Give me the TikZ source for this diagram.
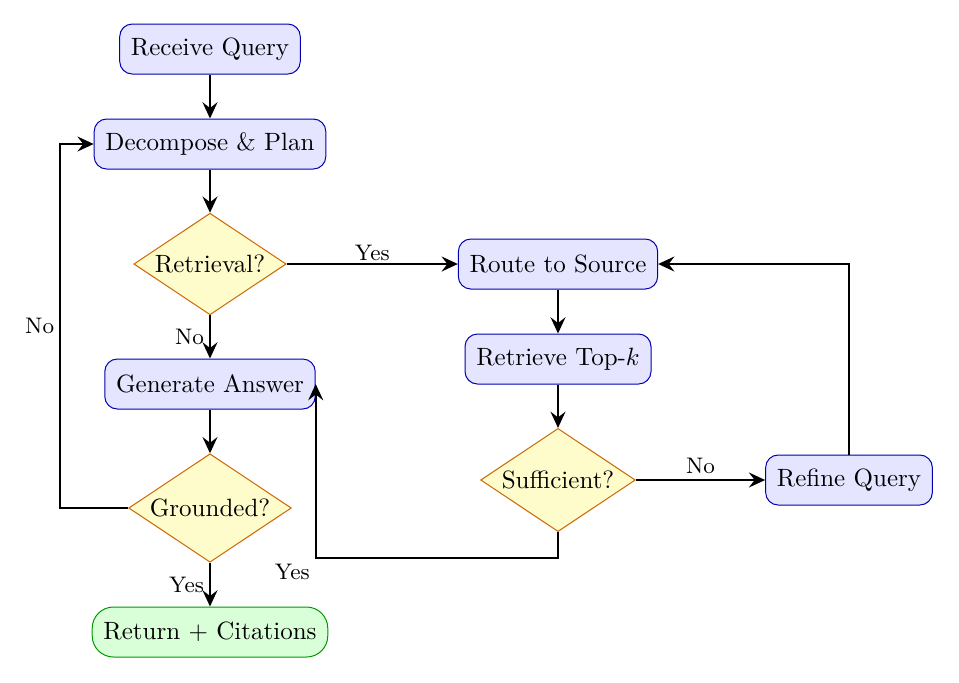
\documentclass[tikz,border=0pt]{standalone}
\usetikzlibrary{shapes.geometric,arrows.meta}
\tikzset{
  box/.style={rectangle, rounded corners=5pt, draw=blue!70!black, fill=blue!10, minimum height=20pt, inner xsep=4.5pt},
  decision/.style={diamond, aspect=1.5, draw=orange!80!black, fill=yellow!20, inner sep=1.2pt},
  term/.style={rectangle, rounded corners=8.5pt, draw=green!60!black, fill=green!15, minimum height=20pt, inner xsep=4.5pt},
  arr/.style={thick, -{Stealth[length=6.5pt,width=6pt,inset=2.3pt]}},
  lbl/.style={font=\small, inner sep=2pt}
}
\begin{document}
\begin{tikzpicture}[x=0.4pt,y=-0.4pt]
\useasboundingbox (0,0) rectangle (959,682);
\node[box] (recv) at (210,49) {Receive Query};
\node[box] (dec) at (210,144) {Decompose \& Plan};
\node[decision] (retq) at (210,264) {Retrieval?};
\node[box] (gen) at (210,384) {Generate Answer};
\node[decision] (grd) at (210,508) {Grounded?};
\node[term] (ret) at (210,632) {Return + Citations};
\node[box] (route) at (558,264) {Route to Source};
\node[box] (top) at (558,359) {Retrieve Top-$k$};
\node[decision] (suf) at (558,480) {Sufficient?};
\node[box] (ref) at (849,480) {Refine Query};
\draw[arr] (recv) -- (dec);
\draw[arr] (dec) -- (retq);
\draw[arr] (retq) -- node[lbl,above=-1pt]{Yes} (route);
\draw[arr] (retq) -- node[lbl,left]{No} (gen);
\draw[arr] (gen) -- (grd);
\draw[arr] (grd) -- node[lbl,left]{Yes} (ret);
\draw[arr] (grd.west) -- ++(-68,0) |- node[pos=0.25,lbl,left]{No} (dec.west);
\draw[arr] (route) -- (top);
\draw[arr] (top) -- (suf);
\draw[arr] (suf) -- node[lbl,above]{No} (ref);
\draw[arr] (ref.north) |- (route.east);
\draw[arr] (suf.south) -- ++(0,26) -| node[pos=0.5,lbl,below left]{Yes} (gen.east);
\end{tikzpicture}
\end{document}
